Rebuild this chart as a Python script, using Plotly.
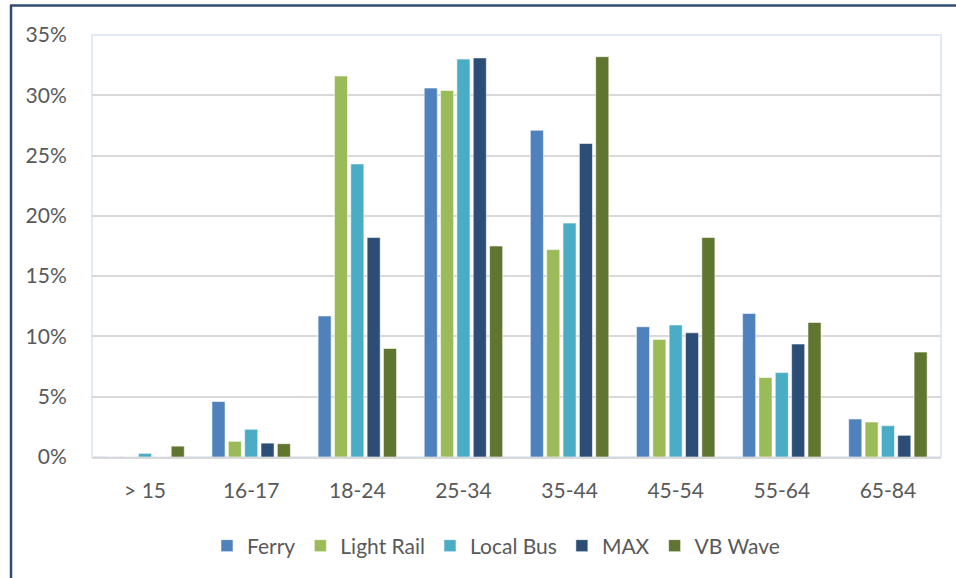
import plotly.graph_objects as go

categories = ["> 15", "16-17", "18-24", "25-34", "35-44", "45-54", "55-64", "65-84"]
ferry = [0.0, 4.6, 11.7, 30.6, 27.1, 10.8, 11.9, 3.15]
light_rail = [0.0, 1.3, 31.6, 30.4, 17.2, 9.75, 6.6, 2.9]
local_bus = [0.3, 2.3, 24.3, 33.0, 19.4, 10.95, 7.0, 2.6]
max_line = [0.0, 1.15, 18.2, 33.1, 26.0, 10.3, 9.37, 1.8]
vb_wave = [0.9, 1.1, 9.0, 17.5, 33.2, 18.2, 11.16, 8.7]

series = [
    ("Ferry", ferry, "#4F81BD"),
    ("Light Rail", light_rail, "#9BBB59"),
    ("Local Bus", local_bus, "#4BACC6"),
    ("MAX", max_line, "#2C4D75"),
    ("VB Wave", vb_wave, "#5F7530"),
]
y_ticks = [0, 5, 10, 15, 20, 25, 30, 35]
y_tick_labels = [f"{v}%" for v in y_ticks]

FONT = "Lato, 'Open Sans', sans-serif"
TXT = "#595959"

fig = go.Figure()
for name, vals, color in series:
    fig.add_trace(go.Bar(
        name=name, x=categories, y=vals,
        marker=dict(color=color, line=dict(color="rgba(255,255,255,0.55)", width=1)),
    ))

W, H = 956, 578
L, R, T, B = 92, 15, 35, 121
pw, ph = W - L - R, H - T - B

def px_x(x):
    return (x - L) / pw

def px_y(y):
    return (H - B - y) / ph

fig.update_layout(
    width=W, height=H,
    margin=dict(l=L, r=R, t=T, b=B, pad=0),
    paper_bgcolor="white", plot_bgcolor="white",
    barmode="group", bargap=0.23, bargroupgap=0.2,
    font=dict(family=FONT, size=21, color=TXT),
    showlegend=True,
    legend=dict(
        orientation="h", x=px_x(496), xanchor="center",
        y=px_y(546), yanchor="middle",
        font=dict(family=FONT, size=21, color=TXT),
        itemwidth=30, traceorder="normal",
    ),
    xaxis=dict(
        showgrid=False, showline=True, linecolor="#D9D9D9", linewidth=2,
        ticks="outside", ticklen=14, tickcolor="rgba(0,0,0,0)",
        tickfont=dict(family=FONT, size=21, color=TXT),
    ),
    yaxis=dict(
        range=[0, 35], tickvals=y_ticks, ticktext=y_tick_labels,
        showgrid=True, gridcolor="#D9D9D9", gridwidth=2,
        zeroline=False, showline=False,
        ticks="outside", ticklen=20, tickcolor="rgba(0,0,0,0)",
        tickfont=dict(family=FONT, size=21, color=TXT),
    ),
    shapes=[
        # plot-area frame (light blue)
        dict(type="rect", xref="paper", yref="paper", x0=0, x1=1, y0=0, y1=1,
             line=dict(color="#E2EAF5", width=2), layer="below"),
        # outer chart border: left and top
        dict(type="line", xref="paper", yref="paper",
             x0=px_x(11), x1=px_x(11), y0=px_y(H + 5), y1=px_y(5),
             line=dict(color="#2F4B6E", width=2.5)),
        dict(type="line", xref="paper", yref="paper",
             x0=px_x(10), x1=px_x(W + 5), y0=px_y(5.5), y1=px_y(5.5),
             line=dict(color="#2F4B6E", width=2.5)),
    ],
)

fig.write_html("out.html")
